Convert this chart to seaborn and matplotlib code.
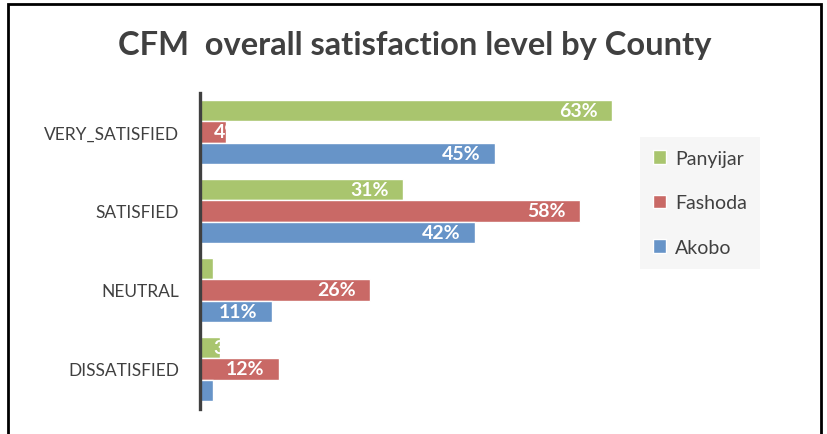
import matplotlib
matplotlib.use("Agg")
import matplotlib.pyplot as plt
from matplotlib.patches import Rectangle
import seaborn as sns
import pandas as pd

# Survey results: share of respondents (%) per satisfaction level and county
levels = ["VERY_SATISFIED", "SATISFIED", "NEUTRAL", "DISSATISFIED"]
counties = ["Panyijar", "Fashoda", "Akobo"]
panyijar = [63, 31, 2, 3]
fashoda = [4, 58, 26, 12]
akobo = [45, 42, 11, 2]

colors = {"Panyijar": "#A9C56E", "Fashoda": "#C96966", "Akobo": "#6794C8"}
text_color = "#404040"

rows = []
for county, vals in zip(counties, [panyijar, fashoda, akobo]):
    for lvl, v in zip(levels, vals):
        rows.append({"level": lvl, "county": county, "pct": v})
df = pd.DataFrame(rows)

sns.set_style("white")
plt.rcParams["font.family"] = ["Lato", "DejaVu Sans"]

fig = plt.figure(figsize=(8.27, 4.35), dpi=100)
ax = fig.add_axes([200 / 827, 1 - 409.5 / 435, 432 / 827, 316 / 435])

sns.barplot(data=df, y="level", x="pct", hue="county", order=levels,
            hue_order=counties, palette=colors, orient="h", width=0.8,
            edgecolor="white", linewidth=1.0, saturation=1, ax=ax,
            legend=True)

ax.set_xlim(0, 66)
ax.set_ylim(3.5, -0.5)
ax.set_xlabel("")
ax.set_ylabel("")
ax.set_xticks([])
ax.tick_params(axis="y", length=0, pad=15, labelsize=12.5, labelcolor=text_color)
for side in ["top", "right", "bottom"]:
    ax.spines[side].set_visible(False)
ax.spines["left"].set_color("#404040")
ax.spines["left"].set_linewidth(2.4)

# Value labels inside the end of each bar, clipped to the bar
fig.canvas.draw()
renderer = fig.canvas.get_renderer()
inv = ax.transData.inverted()
for container, county in zip(ax.containers, counties):
    for bar, v in zip(container, df[df.county == county]["pct"]):
        yc = bar.get_y() + bar.get_height() / 2
        t = ax.text(v - 2.2, yc, f"{v}%", ha="right", va="center",
                    color="white", fontsize=14, fontweight="bold")
        bb = t.get_window_extent(renderer)
        x0 = inv.transform((bb.x0, bb.y0))[0]
        if x0 < 0.3:
            t.set_position((2.1, yc))
            t.set_ha("left")
        t.set_clip_path(bar)

leg = ax.legend(loc="upper left", bbox_to_anchor=(640 / 827, 1 - 138 / 435),
                bbox_transform=fig.transFigure, frameon=True, fontsize=14,
                handlelength=0.7, handleheight=0.7, labelspacing=1.42,
                borderpad=0.65, handletextpad=0.45, labelcolor=text_color,
                borderaxespad=0)
leg.get_frame().set_facecolor("#F4F4F4")
leg.get_frame().set_edgecolor("none")
leg.get_frame().set_boxstyle("square", pad=0)

fig.text(415 / 827, 1 - 45 / 435, "CFM  overall satisfaction level by County",
         ha="center", va="center", fontsize=23.5, fontweight="bold",
         color=text_color)

# Chart frame
fig.patches.append(Rectangle((8 / 827, -0.1), (821 - 8) / 827, 1.1 - 5 / 435,
                             transform=fig.transFigure, fill=False,
                             edgecolor="black", linewidth=2.0))

fig.savefig("out.png", dpi=100)
